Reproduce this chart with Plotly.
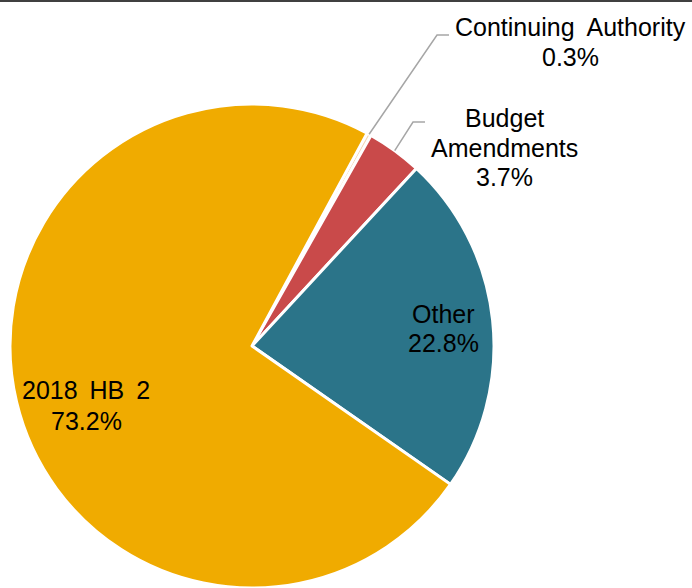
import math
import plotly.graph_objects as go

# Share of appropriations by source (percent)
labels = ["Continuing Authority", "Budget Amendments", "Other", "2018 HB 2"]
values = [0.3, 3.7, 22.8, 73.2]
colors = ["#F6D8B8", "#C94A4A", "#2B7489", "#F0AB00"]

W, H = 692, 588
ROTATION = 28.4            # first slice starts here, clockwise from 12 o'clock
CX, CY, R = 252, 346, 242  # pie centre / radius in pixels

fig = go.Figure(
    go.Pie(
        labels=labels,
        values=values,
        sort=False,
        direction="clockwise",
        rotation=ROTATION,
        marker=dict(colors=colors, line=dict(color="white", width=3)),
        textinfo="none",
        hoverinfo="label+percent",
        domain=dict(x=[(CX - R) / W, (CX + R) / W], y=[0, 2 * R / H]),
        showlegend=False,
    )
)


def px(x, y):
    return x / W, 1 - y / H


def wide(s):
    # slightly wider word gaps
    return s.replace(" ", " \u2009")


def label_lines(i, split_words=False):
    name = labels[i]
    lines = name.split(" ") if split_words else [wide(name)]
    return lines + [f"{values[i]:.1f}%"]


# mid angle of each slice, degrees clockwise from 12 o'clock
total = sum(values)
mids = []
acc = ROTATION
for v in values:
    span = v / total * 360
    mids.append(acc + span / 2)
    acc += span

font = dict(family="Liberation Sans, Arial, sans-serif", size=25, color="black")

# label blocks: slice index -> (centre x, y of each line, split words onto lines)
blocks = {
    0: (570, [27, 57], False),
    1: (504, [118, 147.5, 177], True),
    2: (444, [314, 343], False),
    3: (86, [390, 421], False),
}
# elbow leader lines for the small slices
leaders = {
    0: [(437, 35), (449, 35)],
    1: [(413, 122), (425, 122)],
}

annotations = []
shapes = []
for i, (cx, ys, split) in blocks.items():
    for text, y in zip(label_lines(i, split), ys):
        ax, ay = px(cx, y)
        annotations.append(dict(x=ax, y=ay, xref="paper", yref="paper", text=text,
                                showarrow=False, font=font,
                                xanchor="center", yanchor="middle"))

for i, bend in leaders.items():
    a = math.radians(mids[i])
    start = (CX + R * math.sin(a), CY - R * math.cos(a))
    pts = [start] + bend
    path = "M " + " L ".join(f"{px(x, y)[0]},{px(x, y)[1]}" for x, y in pts)
    shapes.append(dict(type="path", path=path, xref="paper", yref="paper",
                       line=dict(color="#A6A6A6", width=1.5)))

# rule along the top edge
shapes.append(dict(type="line", xref="paper", yref="paper", x0=0, x1=1,
                   y0=1 - 1 / H, y1=1 - 1 / H, line=dict(color="#404040", width=2)))

fig.update_layout(
    width=W,
    height=H,
    margin=dict(l=0, r=0, t=0, b=0),
    paper_bgcolor="white",
    plot_bgcolor="white",
    annotations=annotations,
    shapes=shapes,
)

fig.write_html("out.html")
